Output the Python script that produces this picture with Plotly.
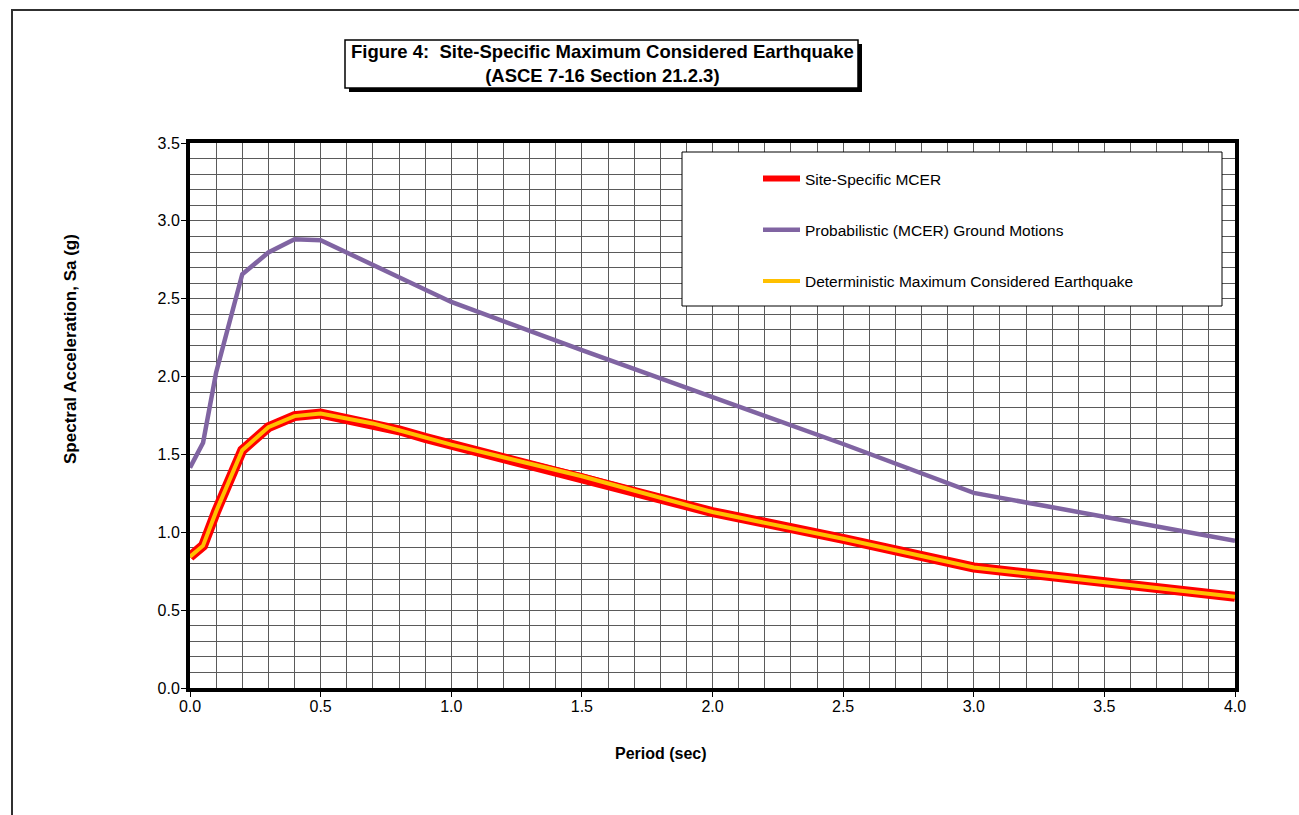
import plotly.graph_objects as go

# ---- data ----
period = [0.0, 0.05, 0.1, 0.2, 0.3, 0.4, 0.5, 0.6, 0.7, 0.8, 0.9, 1.0, 1.5, 2.0, 2.5, 3.0, 4.0]
prob_mcer = [1.415, 1.575, 2.026, 2.657, 2.797, 2.882, 2.876, 2.797, 2.721, 2.636, 2.561, 2.479,
             2.170, 1.872, 1.567, 1.253, 0.946]
site_mcer = [0.843, 0.914, 1.134, 1.527, 1.675, 1.746, 1.762, 1.729, 1.699, 1.655, 1.606, 1.563,
             1.360, 1.130, 0.958, 0.774, 0.586]
det_mce = [0.843, 0.914, 1.134, 1.527, 1.675, 1.746, 1.762, 1.729, 1.699, 1.655, 1.606, 1.563,
           1.360, 1.130, 0.958, 0.774, 0.586]

series_names = ["Site-Specific MCER", "Probabilistic (MCER) Ground Motions",
                "Deterministic Maximum Considered Earthquake"]
title_lines = ["Figure 4:  Site-Specific Maximum Considered Earthquake", "(ASCE 7-16 Section 21.2.3)"]
x_title = "Period (sec)"
y_title = "Spectral Acceleration, Sa (g)"

# ---- layout geometry (pixels) ----
W, H = 1299, 815
L, R, T, B = 190, 1235, 143, 688
FONT = "Arial, 'Liberation Sans', sans-serif"


def px(x):
    return (x - L) / (R - L)


def py(y):
    return (B - y) / (B - T)


fig = go.Figure()
# wide red outline of the site-specific curve (no legend entry)
fig.add_trace(go.Scatter(x=period, y=site_mcer, name=series_names[0], mode="lines", showlegend=False,
                         line=dict(color="#FF0000", width=10), hoverinfo="skip"))
fig.add_trace(go.Scatter(x=period, y=site_mcer, name=series_names[0], mode="lines",
                         line=dict(color="#FF0000", width=6), legendgroup="a"))
fig.add_trace(go.Scatter(x=period, y=prob_mcer, name=series_names[1], mode="lines",
                         line=dict(color="#8064A2", width=4.5), legendgroup="b"))
fig.add_trace(go.Scatter(x=period, y=det_mce, name=series_names[2], mode="lines",
                         line=dict(color="#FFC000", width=4), legendgroup="c"))

grid_col = "#5a5a5a"
axis_common = dict(
    showline=True, linecolor="black", linewidth=4, mirror=True,
    ticks="outside", ticklen=5, tickcolor="black", tickwidth=1,
    showgrid=True, gridcolor=grid_col, gridwidth=1, zeroline=False,
    tickfont=dict(family=FONT, size=16, color="black"),
    tickformat=".1f", tick0=0, dtick=0.5,
    minor=dict(dtick=0.1, showgrid=True, gridcolor=grid_col, gridwidth=1, ticks=""),
)
fig.update_xaxes(range=[0, 4], ticklabelstandoff=-4, **axis_common)
fig.update_yaxes(range=[0, 3.5], ticklabelstandoff=-2, **axis_common)

shapes = []
# outer frame (extends beyond the page)
shapes.append(dict(type="line", xref="paper", yref="paper", x0=px(11), x1=px(1320), y0=py(10), y1=py(10),
                   line=dict(color="#303030", width=2)))
shapes.append(dict(type="line", xref="paper", yref="paper", x0=px(12), x1=px(12), y0=py(9), y1=py(840),
                   line=dict(color="#303030", width=2)))
# title box with shadow
shapes.append(dict(type="rect", xref="paper", yref="paper", x0=px(349), x1=px(862), y0=py(44), y1=py(92),
                   fillcolor="black", line=dict(width=0)))
shapes.append(dict(type="rect", xref="paper", yref="paper", x0=px(345), x1=px(858), y0=py(40), y1=py(88),
                   fillcolor="white", line=dict(color="black", width=1.5)))
# legend box
shapes.append(dict(type="rect", xref="paper", yref="paper", x0=px(682), x1=px(1222), y0=py(152), y1=py(306),
                   fillcolor="white", line=dict(color="black", width=1), layer="above"))

annotations = [
    dict(text="<b>" + title_lines[0] + "</b><br><b>" + title_lines[1] + "</b>", xref="paper", yref="paper",
         x=px(602), y=py(64), xanchor="center", yanchor="middle", showarrow=False,
         font=dict(family=FONT, size=18.5, color="black")),
    dict(text="<b>" + x_title + "</b>", xref="paper", yref="paper", x=px(661), y=py(753),
         xanchor="center", yanchor="middle", showarrow=False, font=dict(family=FONT, size=16, color="black")),
    dict(text="<b>" + y_title + "</b>", xref="paper", yref="paper", x=px(70), y=py(349), textangle=-90,
         xanchor="center", yanchor="middle", showarrow=False, font=dict(family=FONT, size=17, color="black")),
]

fig.update_layout(
    width=W, height=H,
    margin=dict(l=L, r=W - R, t=T, b=H - B, pad=0),
    paper_bgcolor="white", plot_bgcolor="white",
    font=dict(family=FONT, color="black"),
    shapes=shapes, annotations=annotations,
    showlegend=True,
    legend=dict(x=px(758), y=py(162), xanchor="left", yanchor="top", bgcolor="rgba(0,0,0,0)",
                borderwidth=0, font=dict(family=FONT, size=15.5, color="black"), tracegroupgap=28,
                itemwidth=37, itemclick=False, itemdoubleclick=False),
)

fig.write_html("out.html")
